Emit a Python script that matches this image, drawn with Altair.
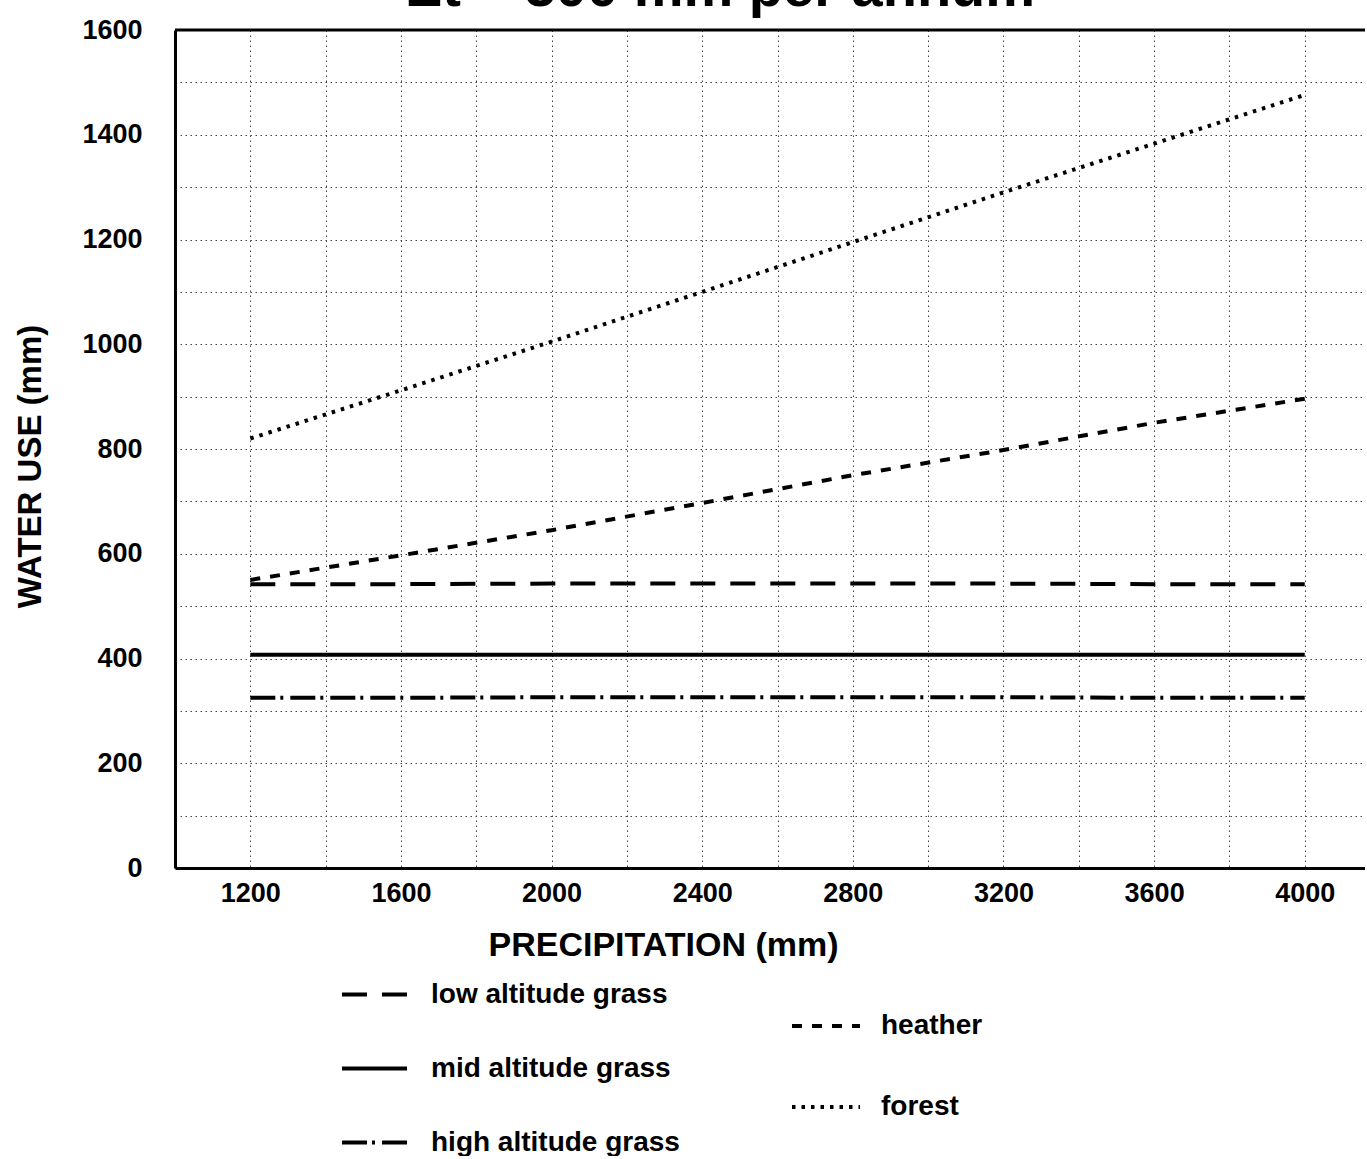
import altair as alt
import pandas as pd

# ---- data ----
precip = [1200, 1600, 2000, 2400, 2800, 3200, 3600, 4000]
low_grass = [542, 542, 543, 543, 543, 543, 542, 542]
mid_grass = [407, 407, 407, 407, 407, 407, 407, 407]
high_grass = [325, 325, 326, 326, 326, 326, 325, 325]
heather = [550, 597, 645, 697, 750, 798, 850, 896]
forest = [820, 912, 1005, 1100, 1195, 1290, 1383, 1476]

grass_names = ["low altitude grass", "mid altitude grass", "high altitude grass"]
other_names = ["heather", "forest"]

x_ticks = list(range(1200, 4001, 200))
y_ticks = list(range(0, 1601, 100))

title_text = "Et = 500 mm per annum"
x_title = "PRECIPITATION (mm)"
y_title = "WATER USE (mm)"

FONT = "Liberation Sans"

rows_g = []
for name, vals in zip(grass_names, [low_grass, mid_grass, high_grass]):
    for p, v in zip(precip, vals):
        rows_g.append({"precip": p, "value": v, "series": name})
grass_df = pd.DataFrame(rows_g)

rows_o = []
for name, vals in zip(other_names, [heather, forest]):
    for p, v in zip(precip, vals):
        rows_o.append({"precip": p, "value": v, "series": name})
other_df = pd.DataFrame(rows_o)

border_df = pd.DataFrame({"value": [1600]})

x_enc = alt.X(
    "precip:Q",
    scale=alt.Scale(domain=[1000, 4160], nice=False, zero=False),
    axis=alt.Axis(
        values=x_ticks,
        format="d",
        labelExpr="datum.value % 400 == 0 ? datum.label : ''",
        labelOverlap=False,
        ticks=False,
        grid=True,
        gridColor="#444444",
        gridDash=[1.5, 3.5],
        gridWidth=1,
        domainColor="black",
        domainWidth=3,
        labelFont=FONT,
        labelFontSize=27,
        labelFontWeight="bold",
        labelColor="black",
        labelPadding=12,
        title=x_title,
        titleFont=FONT,
        titleFontSize=34,
        titleFontWeight="bold",
        titleColor="black",
        titleX=488,
        titleY=77,
        titleAlign="center",
        titleBaseline="middle",
    ),
)

y_enc = alt.Y(
    "value:Q",
    scale=alt.Scale(domain=[0, 1600], nice=False, zero=True),
    axis=alt.Axis(
        values=y_ticks,
        format="d",
        labelExpr="datum.value % 200 == 0 ? datum.label : ''",
        labelOverlap=False,
        ticks=False,
        grid=True,
        gridColor="#444444",
        gridDash=[1.5, 3.5],
        gridWidth=1,
        domainColor="black",
        domainWidth=3,
        labelFont=FONT,
        labelFontSize=27,
        labelFontWeight="bold",
        labelColor="black",
        labelPadding=33,
        title=y_title,
        titleFont=FONT,
        titleFontSize=33,
        titleFontWeight="bold",
        titleColor="black",
        titleAngle=270,
        titleX=-145,
        titleY=436,
        titleAlign="center",
        titleBaseline="middle",
    ),
)

grass = alt.Chart(grass_df).mark_line(color="black", strokeWidth=4, strokeCap="butt").encode(
    x=x_enc,
    y=y_enc,
    strokeDash=alt.StrokeDash(
        "series:N",
        scale=alt.Scale(domain=grass_names, range=[[25, 15], [1, 0], [25, 5, 3, 7]]),
        legend=alt.Legend(
            orient="none",
            legendX=165,
            legendY=930,
            title=None,
            symbolSize=4225,
            symbolStrokeWidth=4,
            symbolStrokeColor="black",
            labelOffset=22,
            rowPadding=25,
            labelFont=FONT,
            labelFontSize=28,
            labelFontWeight="bold",
            labelColor="black",
            labelLimit=500,
            padding=0,
        ),
    ),
)

others = alt.Chart(other_df).mark_line(color="black", strokeWidth=4, strokeCap="butt").encode(
    x=x_enc,
    y=y_enc,
    strokeDash=alt.StrokeDash(
        "series:N",
        scale=alt.Scale(domain=other_names, range=[[10, 10], [3.5, 6]]),
        legend=alt.Legend(
            orient="none",
            legendX=615,
            legendY=960,
            title=None,
            symbolSize=4624,
            symbolStrokeWidth=4,
            symbolStrokeColor="black",
            labelOffset=19,
            rowPadding=31,
            labelFont=FONT,
            labelFontSize=28,
            labelFontWeight="bold",
            labelColor="black",
            labelLimit=500,
            padding=0,
        ),
    ),
)

border = alt.Chart(border_df).mark_rule(color="black", strokeWidth=3).encode(y=y_enc)

chart = (
    alt.layer(border, grass, others)
    .resolve_scale(strokeDash="independent")
    .resolve_legend(strokeDash="independent")
    .properties(
        width=1190,
        height=838,
        autosize=alt.AutoSizeParams(type="none"),
        padding={"left": 175, "top": 30, "right": 0, "bottom": 288},
        title=alt.TitleParams(
            text=title_text,
            font=FONT,
            fontSize=56,
            fontWeight="bold",
            color="black",
            anchor="middle",
            baseline="alphabetic",
            offset=4,
            dx=-50,
            dy=50,
        ),
        background="white",
    )
    .configure_view(stroke=None)
)

chart.save("out.html", embed_options={"renderer": "svg", "actions": False})
